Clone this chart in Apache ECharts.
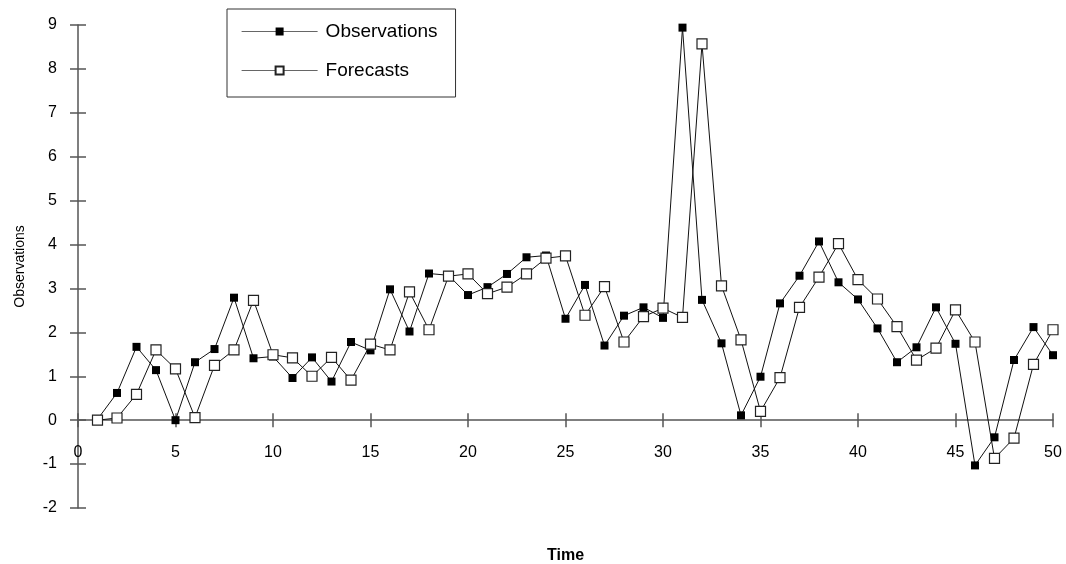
<!DOCTYPE html>
<html>
<head>
<meta charset="utf-8">
<script src="https://cdn.jsdelivr.net/npm/echarts@6/dist/echarts.min.js"></script>
<style>
  html, body { margin: 0; padding: 0; background: #fff; }
  #main { width: 1066px; height: 564px; }
</style>
</head>
<body>
<div id="main"></div>
<script>
// time index 1..50
const times = [1,2,3,4,5,6,7,8,9,10,11,12,13,14,15,16,17,18,19,20,21,22,23,24,25,
  26,27,28,29,30,31,32,33,34,35,36,37,38,39,40,41,42,43,44,45,46,47,48,49,50];

const observations = [0.02,0.62,1.67,1.14,0.00,1.32,1.62,2.79,1.41,1.45,
  0.96,1.43,0.88,1.78,1.59,2.98,2.02,3.34,3.30,2.85,
  3.03,3.33,3.71,3.75,2.31,3.08,1.70,2.38,2.57,2.33,
  8.94,2.74,1.75,0.11,0.99,2.66,3.29,4.07,3.14,2.75,
  2.09,1.32,1.66,2.57,1.74,-1.03,-0.39,1.37,2.12,1.48];

const forecasts = [0.00,0.05,0.59,1.60,1.17,0.06,1.25,1.60,2.73,1.49,
  1.42,1.00,1.43,0.91,1.73,1.60,2.92,2.06,3.28,3.33,
  2.88,3.03,3.33,3.69,3.74,2.39,3.04,1.78,2.36,2.55,
  2.34,8.57,3.06,1.83,0.20,0.97,2.57,3.26,4.02,3.20,
  2.76,2.13,1.37,1.64,2.51,1.78,-0.87,-0.41,1.27,2.06];

const font = '"Liberation Sans", Arial, sans-serif';
const axisCol = '#555';

const myChart = echarts.init(document.getElementById('main'));

const option = {
  animation: false,
  backgroundColor: '#fff',
  grid: { left: 78, right: 13, top: 25, bottom: 56, containLabel: false, outerBoundsMode: 'none' },
  legend: {
    left: 227,
    top: 9,
    orient: 'vertical',
    itemWidth: 76,
    itemHeight: 10,
    itemGap: 20,
    padding: [13, 18, 17, 14],
    borderColor: '#333',
    borderWidth: 1,
    lineStyle: { color: '#666', width: 1.2 },
    textStyle: { fontFamily: font, fontSize: 19, color: '#000', padding: [0, 0, 0, 3] },
    data: ['Observations', 'Forecasts']
  },
  xAxis: [
    {
      type: 'value',
      min: 0, max: 50, interval: 5,
      name: 'Time',
      nameLocation: 'middle',
      nameGap: 40,
      nameTextStyle: { fontFamily: font, fontSize: 16, fontWeight: 'bold', color: '#000' },
      axisLine: { onZero: true, lineStyle: { color: axisCol, width: 1.5 } },
      axisTick: { show: true, length: 7, lineStyle: { color: axisCol, width: 1.5 } },
      // labels sit at the grid edge, pull them up under the zero line
      axisLabel: { margin: -63, fontFamily: font, fontSize: 16, color: '#000' },
      splitLine: { show: false }
    },
    {
      // second axis only to draw the upper half of the crossing ticks
      type: 'value',
      min: 0, max: 50, interval: 5,
      position: 'top',
      axisLine: { show: false, onZero: true },
      axisTick: { show: true, length: 7, lineStyle: { color: axisCol, width: 1.5 } },
      axisLabel: { show: false },
      splitLine: { show: false }
    }
  ],
  yAxis: [
    {
      type: 'value',
      min: -2, max: 9, interval: 1,
      name: 'Observations',
      nameLocation: 'middle',
      nameGap: 51,
      nameTextStyle: { fontFamily: font, fontSize: 14, color: '#000' },
      axisLine: { show: true, onZero: true, lineStyle: { color: axisCol, width: 1.5 } },
      axisTick: { show: true, length: 8, lineStyle: { color: axisCol, width: 1.5 } },
      axisLabel: { margin: 21, fontFamily: font, fontSize: 16, color: '#000' },
      splitLine: { show: false }
    },
    {
      type: 'value',
      min: -2, max: 9, interval: 1,
      position: 'right',
      axisLine: { show: false, onZero: true },
      axisTick: { show: true, length: 8, lineStyle: { color: axisCol, width: 1.5 } },
      axisLabel: { show: false },
      splitLine: { show: false }
    }
  ],
  series: [
    {
      name: 'Observations',
      type: 'line',
      data: times.map((t, i) => [t, observations[i]]),
      symbol: 'rect',
      symbolSize: 8,
      showAllSymbol: true,
      lineStyle: { color: '#111', width: 1 },
      itemStyle: { color: '#000', borderColor: '#000', borderWidth: 0 }
    },
    {
      name: 'Forecasts',
      type: 'line',
      data: times.map((t, i) => [t, forecasts[i]]),
      symbol: 'rect',
      symbolSize: 10,
      showAllSymbol: true,
      lineStyle: { color: '#111', width: 1 },
      itemStyle: { color: '#fff', borderColor: '#222', borderWidth: 1.2 }
    }
  ]
};

myChart.setOption(option);
</script>
</body>
</html>
